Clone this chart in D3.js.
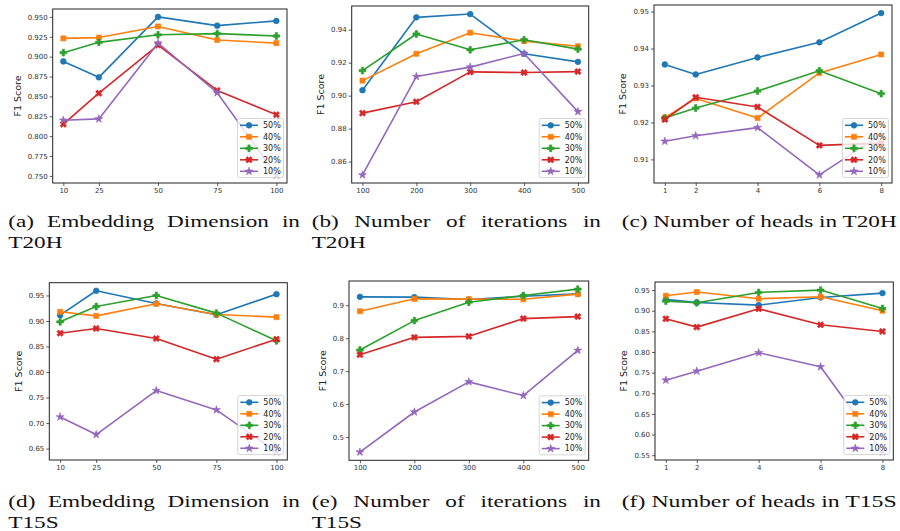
<!DOCTYPE html>
<html><head><meta charset="utf-8">
<script src="https://cdn.jsdelivr.net/npm/d3@7"></script>
<style>body{margin:0;background:#fff} svg{display:block}</style>
</head><body>
<svg id="c" width="900" height="531"></svg>
<script>
// ---------- data ----------
const seriesNames = ["50%", "40%", "30%", "20%", "10%"];
const seriesColors = ["#1f77b4", "#ff7f0e", "#2ca02c", "#d62728", "#9467bd"];

const xEmbed = [10, 25, 50, 75, 100];
const xIter = [100, 200, 300, 400, 500];
const xHeads = [1, 2, 4, 6, 8];

// values per series in order 50%,40%,30%,20%,10%
const embedT20H = [
  [0.894, 0.874, 0.950, 0.939, 0.945],
  [0.923, 0.924, 0.938, 0.921, 0.917],
  [0.905, 0.918, 0.9275, 0.929, 0.926],
  [0.815, 0.854, 0.9146, 0.8575, 0.827],
  [0.820, 0.8217, 0.917, 0.8546, 0.751]
];
const iterT20H = [
  [0.9033, 0.9475, 0.9495, 0.9254, 0.9205],
  [0.9091, 0.9254, 0.9382, 0.9331, 0.930],
  [0.9152, 0.9374, 0.9278, 0.9339, 0.9282],
  [0.8894, 0.8963, 0.9144, 0.914, 0.9146],
  [0.8519, 0.9116, 0.9173, 0.9256, 0.8903]
];
const headsT20H = [
  [0.9357, 0.933, 0.9376, 0.9417, 0.9496],
  [0.9213, 0.9265, 0.9212, 0.9334, 0.9384],
  [0.9212, 0.9239, 0.9285, 0.934, 0.9278],
  [0.9208, 0.9268, 0.9242, 0.9138, 0.9144],
  [0.9149, 0.9164, 0.9186, 0.9058, 0.9167]
];
const embedT15S = [
  [0.9114, 0.9592, 0.9343, 0.9121, 0.9526],
  [0.918, 0.910, 0.9337, 0.9127, 0.9075],
  [0.8984, 0.9284, 0.95, 0.9154, 0.8611],
  [0.8761, 0.8853, 0.8657, 0.8252, 0.8644],
  [0.712, 0.6775, 0.7637, 0.7258, 0.6435]
];
const iterT15S = [
  [0.9254, 0.9244, 0.9173, 0.927, 0.9345],
  [0.8817, 0.9193, 0.9183, 0.918, 0.9335],
  [0.764, 0.8533, 0.9091, 0.9294, 0.9487],
  [0.7497, 0.8025, 0.8056, 0.8594, 0.8655],
  [0.4543, 0.5761, 0.6675, 0.6259, 0.763]
];
const headsT15S = [
  [0.9274, 0.920, 0.9136, 0.9322, 0.9427],
  [0.9363, 0.9452, 0.929, 0.9338, 0.900],
  [0.9233, 0.9193, 0.9443, 0.95, 0.9056],
  [0.8805, 0.8603, 0.9047, 0.866, 0.8498],
  [0.7318, 0.7536, 0.7981, 0.7641, 0.558]
];

const ticksA = [0.750, 0.775, 0.800, 0.825, 0.850, 0.875, 0.900, 0.925, 0.950];
const ticksB = [0.86, 0.88, 0.90, 0.92, 0.94];
const ticksC = [0.91, 0.92, 0.93, 0.94, 0.95];
const ticksD = [0.65, 0.70, 0.75, 0.80, 0.85, 0.90, 0.95];
const ticksE = [0.5, 0.6, 0.7, 0.8, 0.9];
const ticksF = [0.55, 0.60, 0.65, 0.70, 0.75, 0.80, 0.85, 0.90, 0.95];

const yLabel = "F1 Score";
const captions = [
  ["(a) Embedding Dimension in", "T20H"],
  ["(b) Number of iterations in", "T20H"],
  ["(c) Number of heads in T20H"],
  ["(d) Embedding Dimension in", "T15S"],
  ["(e) Number of iterations in", "T15S"],
  ["(f) Number of heads in T15S"]
];

// ---------- layout ----------
const panels = [
  {box: {l: 52.7, r: 287, t: 9, b: 183}, x: xEmbed, ys: embedT20H, yt: ticksA, fmt: ".3f"},
  {box: {l: 351.7, r: 588.7, t: 6, b: 183}, x: xIter, ys: iterT20H, yt: ticksB, fmt: ".2f"},
  {box: {l: 654, r: 892, t: 5, b: 183}, x: xHeads, ys: headsT20H, yt: ticksC, fmt: ".2f"},
  {box: {l: 49.3, r: 287.3, t: 282.7, b: 460}, x: xEmbed, ys: embedT15S, yt: ticksD, fmt: ".2f"},
  {box: {l: 349, r: 588.7, t: 281, b: 460.3}, x: xIter, ys: iterT15S, yt: ticksE, fmt: ".1f"},
  {box: {l: 655, r: 893.3, t: 282, b: 460}, x: xHeads, ys: headsT15S, yt: ticksF, fmt: ".2f"}
];
const capLayout = [
  {L: 8.3, R: 300, just: true, b1: 227.3, b2: 248.3},
  {L: 311.7, R: 601, just: true, b1: 227.3, b2: 248.3},
  {L: 621.7, R: 896.7, just: false, b1: 227.3},
  {L: 8.3, R: 300, just: true, b1: 507.3, b2: 528},
  {L: 311.7, R: 601, just: true, b1: 507.3, b2: 528},
  {L: 621.7, R: 896.7, just: false, b1: 507.3}
];

const svg = d3.select("#c");
const sans = "'DejaVu Sans', sans-serif";
const serif = "'Liberation Serif', 'Times New Roman', serif";

const symbolFor = [
  {type: d3.symbolCircle, size: 26, rot: 0},
  {type: d3.symbolSquare, size: 26, rot: 0},
  {type: d3.symbolCross, size: 26, rot: 0},
  {type: d3.symbolCross, size: 26, rot: 45},
  {type: d3.symbolStar, size: 20, rot: 0}
];

function drawMarker(g, i, cx, cy) {
  const s = symbolFor[i];
  g.append("path")
    .attr("d", d3.symbol().type(s.type).size(s.size)())
    .attr("transform", `translate(${cx},${cy}) rotate(${s.rot})`)
    .attr("fill", seriesColors[i])
    .attr("stroke", seriesColors[i])
    .attr("stroke-width", 0.6);
}

panels.forEach(p => {
  const g = svg.append("g");
  const all = p.ys.flat();
  const ymin = d3.min(all), ymax = d3.max(all), yr = ymax - ymin;
  const y = d3.scaleLinear().domain([ymin - 0.05 * yr, ymax + 0.05 * yr]).range([p.box.b, p.box.t]);
  const xmin = d3.min(p.x), xmax = d3.max(p.x), xr = xmax - xmin;
  const x = d3.scaleLinear().domain([xmin - 0.05 * xr, xmax + 0.05 * xr]).range([p.box.l, p.box.r]);

  const xa = g.append("g").attr("transform", `translate(0,${p.box.b})`)
    .call(d3.axisBottom(x).tickValues(p.x).tickFormat(d3.format("d")).tickSize(3).tickSizeOuter(0).tickPadding(2));
  const ya = g.append("g").attr("transform", `translate(${p.box.l},0)`)
    .call(d3.axisLeft(y).tickValues(p.yt).tickFormat(d3.format(p.fmt)).tickSize(3).tickSizeOuter(0).tickPadding(2));
  [xa, ya].forEach(a => {
    a.select(".domain").remove();
    a.selectAll("line").attr("stroke", "#333").attr("stroke-width", 0.8);
    a.selectAll("text").attr("font-family", sans).attr("font-size", 7).attr("fill", "#333");
  });

  // y label
  let minLeft = p.box.l;
  ya.selectAll("text").each(function () {
    const bb = this.getBBox();
    minLeft = Math.min(minLeft, p.box.l + bb.x);
  });
  g.append("text")
    .attr("transform", `translate(${minLeft - 7},${(p.box.t + p.box.b) / 2}) rotate(-90)`)
    .attr("text-anchor", "middle")
    .attr("font-family", sans).attr("font-size", 9.5).attr("fill", "#222")
    .text(yLabel);

  // lines
  const line = d3.line().x((d, j) => x(p.x[j])).y(d => y(d));
  p.ys.forEach((vals, i) => {
    g.append("path").attr("d", line(vals)).attr("fill", "none")
      .attr("stroke", seriesColors[i]).attr("stroke-width", 1.6).attr("stroke-linejoin", "round");
    vals.forEach((v, j) => drawMarker(g, i, x(p.x[j]), y(v)));
  });

  // frame
  g.append("rect").attr("x", p.box.l).attr("y", p.box.t)
    .attr("width", p.box.r - p.box.l).attr("height", p.box.b - p.box.t)
    .attr("fill", "none").attr("stroke", "#222").attr("stroke-width", 1);

  // legend
  const lw = 46, lh = 59;
  const lx = p.box.r - 3.5 - lw, ly = p.box.b - 5.5 - lh;
  const lg = g.append("g");
  lg.append("rect").attr("x", lx).attr("y", ly).attr("width", lw).attr("height", lh)
    .attr("rx", 2).attr("fill", "#fff").attr("fill-opacity", 0.8)
    .attr("stroke", "#ccc").attr("stroke-width", 0.8);
  seriesNames.forEach((n, i) => {
    const yy = ly + 6.8 + i * 11.5;
    lg.append("line").attr("x1", lx + 2.5).attr("x2", lx + 20.5).attr("y1", yy).attr("y2", yy)
      .attr("stroke", seriesColors[i]).attr("stroke-width", 1.6);
    drawMarker(lg, i, lx + 11.5, yy);
    lg.append("text").attr("x", lx + 25.5).attr("y", yy).attr("dy", "0.35em")
      .attr("font-family", sans).attr("font-size", 8).attr("fill", "#222").text(n);
  });
});

// ---------- captions ----------
const capSize = 16.5;
function measure(t) {
  const el = svg.append("text").style("font-family", serif).style("font-size", capSize + "px").text(t);
  const w = el.node().getComputedTextLength();
  el.remove();
  return w;
}
const kScale = (capLayout[2].R - capLayout[2].L) / measure(captions[2][0]);

function putText(t, x0, yb, w) {
  svg.append("text").attr("x", x0).attr("y", yb)
    .style("font-family", serif).style("font-size", capSize + "px").attr("fill", "#111")
    .attr("textLength", w).attr("lengthAdjust", "spacingAndGlyphs").text(t);
}

captions.forEach((lines, i) => {
  const c = capLayout[i];
  if (c.just) {
    const words = lines[0].split(" ");
    const widths = words.map(w => measure(w) * kScale);
    const gap = (c.R - c.L - d3.sum(widths)) / (words.length - 1);
    let xx = c.L;
    words.forEach((w, j) => { putText(w, xx, c.b1, widths[j]); xx += widths[j] + gap; });
  } else {
    putText(lines[0], c.L, c.b1, c.R - c.L);
  }
  if (lines[1]) putText(lines[1], c.L, c.b2, measure(lines[1]) * kScale);
});
</script>
</body></html>
